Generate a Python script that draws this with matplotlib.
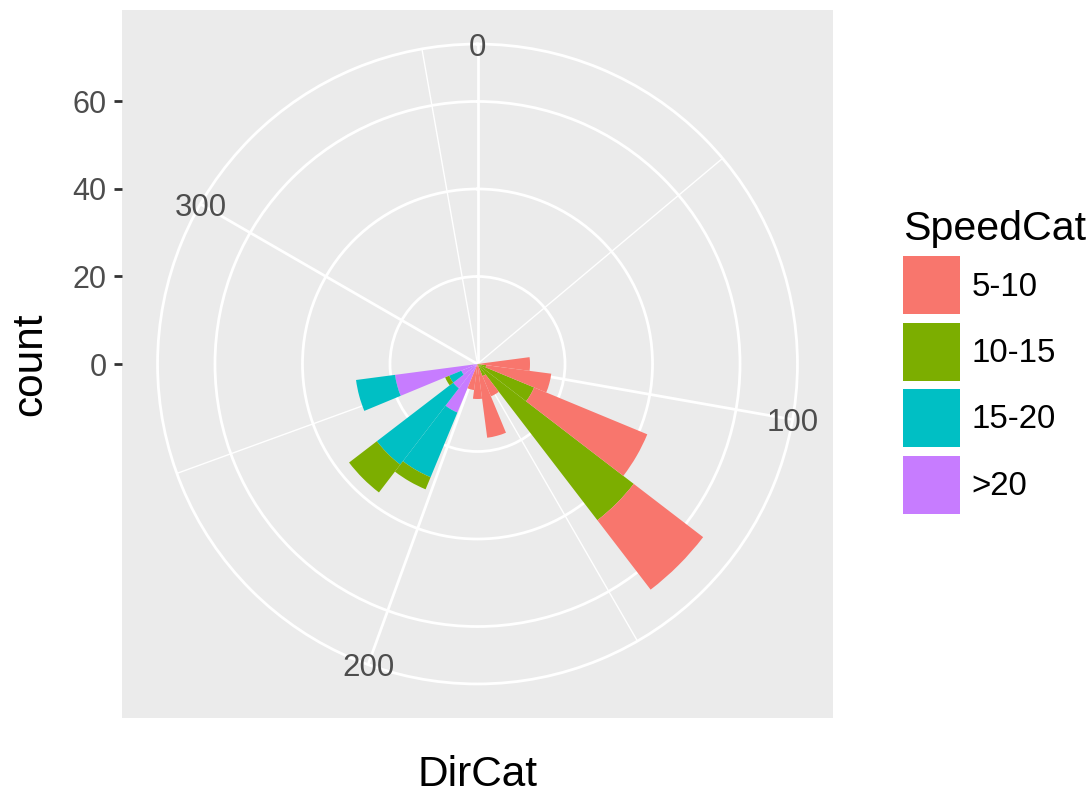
import matplotlib.pyplot as plt
import numpy as np
from matplotlib.patches import Patch

plt.rcParams['font.family'] = ['Liberation Sans', 'DejaVu Sans']

# wind direction bins (degrees) and counts per speed class
dir_cat = [90, 105, 120, 135, 150, 165, 180, 195, 210, 225, 240, 255]
speed_cats = ['5-10', '10-15', '15-20', '>20']
count_5_10 = [12, 15, 28, 20, 5, 17, 8, 6, 0, 0, 0, 0]
count_10_15 = [0, 2, 14, 45, 3, 0, 0, 0, 3, 8, 1, 0]
count_15_20 = [0, 0, 0, 0, 0, 0, 0, 0, 16, 22, 3, 9]
count_20 = [0, 0, 0, 0, 0, 0, 0, 0, 12, 7, 4, 19]
colors = ['#F8766D', '#7CAE00', '#00BFC4', '#C77CFF']

theta_breaks = [0, 100, 200, 300]
theta_minor = [50, 150, 250, 350]
r_breaks = [0, 20, 40, 60]
bar_width = 15

W, H = 1090, 793
fig = plt.figure(figsize=(W / 100, H / 100), dpi=100)

# panel box in pixels
pl, pr, pt, pb = 122, 833, 10, 718
cx, cy = (pl + pr) / 2, (pt + pb) / 2
R = 0.45 * (pr - pl)

# stacking: >20 innermost, 5-10 outermost (ggplot order)
layers = [count_20, count_15_20, count_10_15, count_5_10]
layer_cols = [colors[3], colors[2], colors[1], colors[0]]
totals = np.sum(np.array(layers, dtype=float), axis=0)
rmax = totals.max() * 0.45 / 0.4
ppu = R / rmax

# grey background panel carrying the r axis
bg = fig.add_axes([pl / W, 1 - pb / H, (pr - pl) / W, (pb - pt) / H])
bg.set_facecolor('#EBEBEB')
for s in bg.spines.values():
    s.set_visible(False)
bg.set_xlim(0, 1)
bg.set_xticks([])
bg.set_ylim(-(pb - cy) / ppu, (cy - pt) / ppu)
bg.set_yticks(r_breaks)
bg.tick_params(axis='y', length=6, width=2, color='#333333', pad=5,
               labelsize=22, labelcolor='#4D4D4D')

# polar axes
ax = fig.add_axes([(cx - R) / W, 1 - (cy + R) / H, 2 * R / W, 2 * R / H],
                  projection='polar')
ax.set_facecolor('none')
ax.set_theta_zero_location('N')
ax.set_theta_direction(-1)
ax.set_ylim(0, rmax)
ax.set_yticks(r_breaks[1:])
ax.set_yticklabels([])
ax.set_xticks(np.radians(theta_breaks))
ax.set_xticklabels([])
ax.set_xticks(np.radians(theta_minor), minor=True)
ax.tick_params(axis='x', which='both', length=0)
ax.set_axisbelow(True)
ax.grid(True, which='major', color='white', linewidth=2.0)
ax.xaxis.grid(True, which='minor', color='white', linewidth=1.0)
ax.spines['polar'].set_color('white')
ax.spines['polar'].set_linewidth(2.0)
ax.spines['polar'].set_zorder(0.4)

theta = np.radians(dir_cat)
bottom = np.zeros(len(dir_cat))
for vals, c in zip(layers, layer_cols):
    ax.bar(theta, vals, width=np.radians(bar_width), bottom=bottom,
           color=c, linewidth=0, align='center', zorder=2)
    bottom += np.array(vals, dtype=float)

# theta labels sit on the outer circle, above the grid
for t in theta_breaks:
    ax.text(np.radians(t), rmax, str(t), ha='center', va='center_baseline',
            fontsize=22.5, color='#4D4D4D', zorder=5)

# axis titles
fig.text(30 / W, 1 - cy / H, 'count', rotation=90, ha='center', va='center',
         fontsize=30.5)
fig.text(cx / W, 1 - 775 / H, 'DirCat', ha='center', va='center',
         fontsize=30.5)

# legend
handles = [Patch(facecolor=c, edgecolor='none') for c in colors]
fig.legend(handles=handles, labels=speed_cats, title='SpeedCat',
           loc='upper left', bbox_to_anchor=(903 / W, 1 - 210 / H),
           frameon=False, fontsize=23.8, title_fontsize=29.6,
           handlelength=1.72, handleheight=2.33, labelspacing=0.25,
           handletextpad=0.35, borderpad=0, borderaxespad=0,
           alignment='left')

fig.savefig('out.png', dpi=100)
